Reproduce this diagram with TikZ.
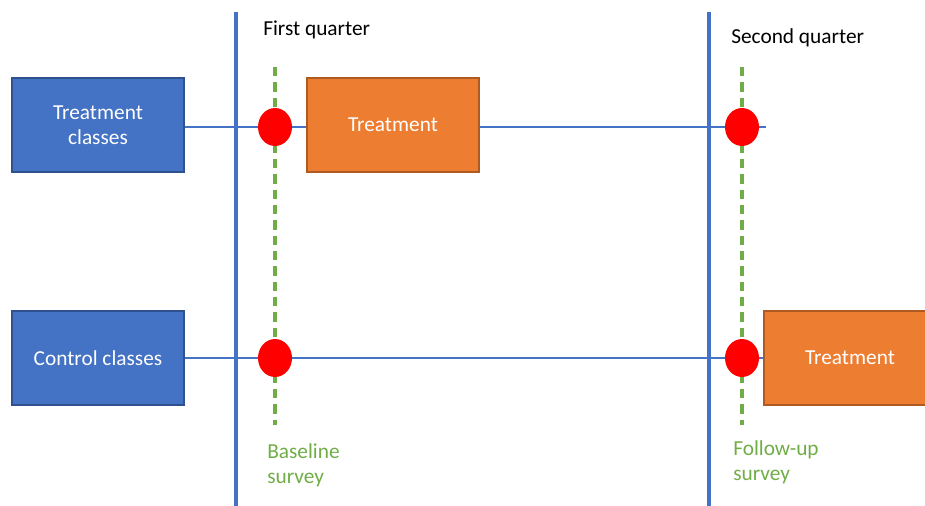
\documentclass[tikz,border=0pt]{standalone}
\usepackage{fontspec}
\setmainfont{Carlito}
\usetikzlibrary{shapes.geometric}
\definecolor{bblue}{HTML}{4472C4}
\definecolor{bblueb}{HTML}{2F528F}
\definecolor{oorange}{HTML}{ED7D31}
\definecolor{oorangeb}{HTML}{AE5A21}
\definecolor{ggreen}{HTML}{70AD47}
\begin{document}
\begin{tikzpicture}[x=0.75pt,y=-0.75pt,
  bluebox/.style={draw=bblueb,fill=bblue,line width=0.9pt,text=white,minimum width=129pt,minimum height=70.5pt,align=center,font=\fontsize{16}{19}\selectfont,inner sep=0pt},
  orangebox/.style={draw=oorangeb,fill=oorange,line width=0.9pt,text=white,minimum width=129pt,minimum height=70.5pt,align=center,font=\fontsize{16}{19}\selectfont,inner sep=0pt},
  vline/.style={draw=bblue,line width=2.4pt},
  hline/.style={draw=bblue,line width=2.2pt},
  gdash/.style={draw=ggreen,line width=2.4pt,dash pattern=on 7pt off 4.5pt},
  dot/.style={fill=red,ellipse,minimum width=25.5pt,minimum height=28.5pt,inner sep=0pt},
  lbl/.style={font=\fontsize{16}{19}\selectfont,inner sep=0pt},
  glbl/.style={font=\fontsize{16}{18.5}\selectfont,text=ggreen,align=left,inner sep=0pt,anchor=base west}]
\useasboundingbox (0,0) rectangle (925,506);
% vertical quarter lines
\coordinate (v1t) at (236,12); \coordinate (v1b) at (236,506);
\coordinate (v2t) at (709,12); \coordinate (v2b) at (709,506);
\draw[vline] (v1t) -- (v1b);
\draw[vline] (v2t) -- (v2b);
% green dashed survey lines
\coordinate (g1t) at (275,67); \coordinate (g1b) at (275,425);
\coordinate (g2t) at (742,67); \coordinate (g2b) at (742,425);
\draw[gdash] (g1t) -- (g1b);
\draw[gdash] (g2t) -- (g2b);
% boxes
\node[bluebox] (tc) at (98,125) {Treatment\\classes};
\node[bluebox] (cc) at (98,358) {Control classes};
\node[orangebox] (t1) at (393,125) {Treatment};
\node[orangebox] (t2) at (850,358) {Treatment};
% horizontal lines
\coordinate (hend) at (766,127);
\draw[hline] ([yshift=-1.5pt]tc.east) -- ([yshift=-1.5pt]t1.west);
\draw[hline] ([yshift=-1.5pt]t1.east) -- (hend);
\draw[hline] (cc.east) -- (t2.west);
% dots
\node[dot] (d1) at (275,127) {};
\node[dot] (d2) at (742,127) {};
\node[dot] (d3) at (275,358) {};
\node[dot] (d4) at (742,358) {};
% labels
\node[lbl,anchor=base west] (q1) at (263,36) {First quarter};
\node[lbl,anchor=base west] (q2) at (731,44) {Second quarter};
\node[glbl] (bs) at (267,483) {Baseline\\survey};
\node[glbl] (fs) at (733,480) {Follow-up\\survey};
\end{tikzpicture}
\end{document}
